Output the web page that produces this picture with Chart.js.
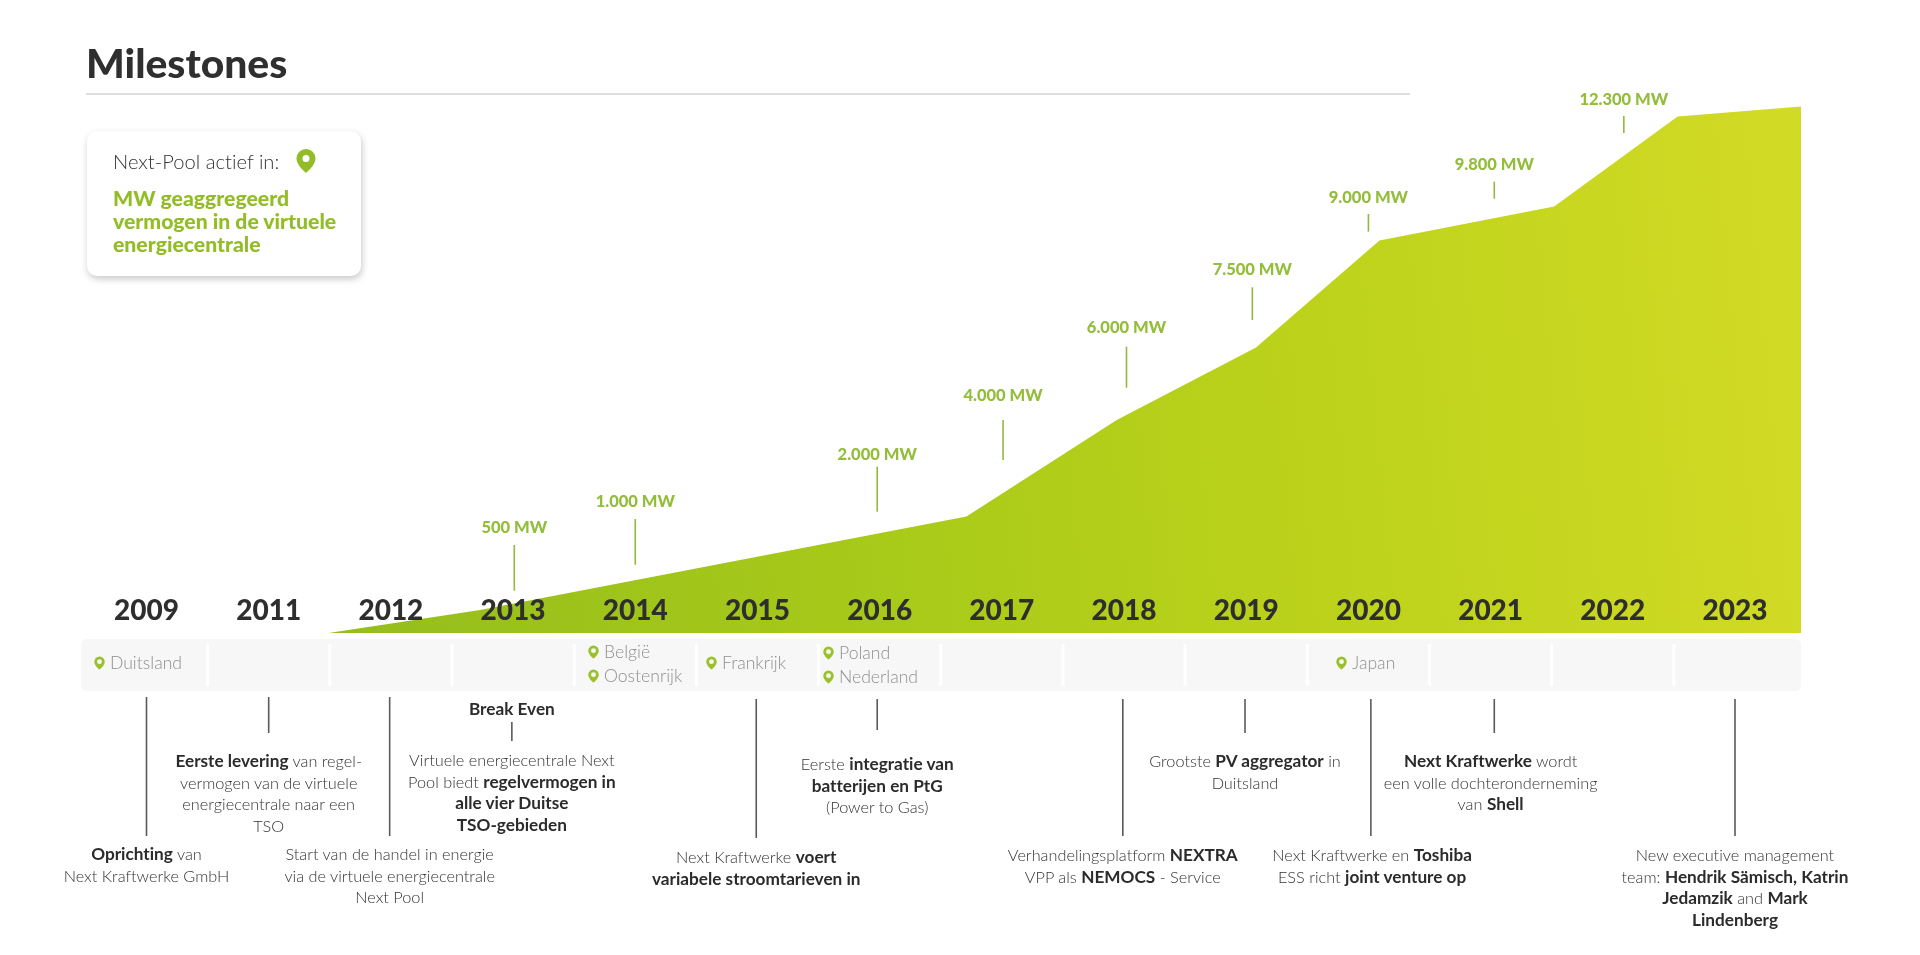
<!DOCTYPE html>
<html lang="nl">
<head>
<meta charset="utf-8">
<title>Milestones</title>
<script src="https://cdn.jsdelivr.net/npm/chart.js@4"></script>
<style>
    html, body { margin: 0; padding: 0; background: #fff; }
    body { width: 1920px; height: 955px; position: relative; overflow: hidden; font-family: Lato, sans-serif; font-variant-ligatures: none; }
    #chart { position: absolute; left: 0; top: 0; }
    #title { position: absolute; left: 86px; top: 38px; margin: 0; font-size: 40.8px; line-height: 50px; font-weight: 900; color: #2f2f2f; }
    #rule { position: absolute; left: 86px; top: 93px; width: 1324px; height: 2px; background: #dedede; }
    #card { position: absolute; left: 87px; top: 131px; width: 274px; height: 145px; border-radius: 10px; background: #fff; box-shadow: 1px 3px 7px rgba(0,0,0,.22); }
    #card .head { position: absolute; left: 26px; top: 18px; font-size: 20.2px; line-height: 24px; font-weight: 300; color: #333; white-space: nowrap; }
    #card .pin { position: absolute; left: 209px; top: 18px; width: 20px; height: 24px; }
    #card .body { position: absolute; left: 26px; top: 56px; font-size: 21.2px; line-height: 23px; font-weight: 900; color: #93bd26; white-space: nowrap; }
    .note { position: absolute; transform: translateX(-50%); text-align: center; white-space: nowrap; font-size: 16.3px; line-height: 21.6px; font-weight: 300; color: #333; }
    .note b { font-size: 17.2px; font-weight: 700; color: #2b2b2b; }
    .country { position: absolute; font-size: 17.6px; line-height: 22px; font-weight: 300; color: #8f8f8f; white-space: nowrap; }
    .country svg { position: absolute; left: -16px; top: 3px; width: 11px; height: 16px; }
</style>
</head>
<body>
<canvas id="chart" width="1920" height="955"></canvas>
<h1 id="title">Milestones</h1>
<div id="rule"></div>
<div id="card">
    <div class="head">Next-Pool actief in:</div>
    <svg class="pin" viewBox="0 0 20 24"><path fill="#93bd26" fill-rule="evenodd" d="M10 0a9.5 9.5 0 0 0-9.5 9.5C.5 15 6 20.500 10 24c4-3.500 9.500-9 9.500-14.500A9.500 9.500 0 0 0 10 0zm0 6a3.500 3.500 0 1 1 0 7 3.500 3.500 0 0 1 0-7z"/></svg>
    <div class="body">MW geaggregeerd<br>vermogen in de virtuele<br>energiecentrale</div>
</div>
<script>
// Years on the axis, one per step of the x scale
const years = ['2009', '2011', '2012', '2013', '2014', '2015', '2016', '2017', '2018', '2019', '2020', '2021', '2022', '2023'];

// Outline of the green area (x in axis steps, y in MW)
const areaX = [1.49, 2.73, 6.71, 7.94, 9.08, 10.09, 11.52, 12.53, 13.54];
const areaMw = [0, 575, 2910, 5325, 7140, 9810, 10660, 12910, 13160];

// MW callouts
const mwLabels = ['500 MW', '1.000 MW', '2.000 MW', '4.000 MW', '6.000 MW', '7.500 MW', '9.000 MW', '9.800 MW', '12.300 MW'];
const mwAt = [3.01, 4.0, 5.98, 7.01, 8.02, 9.05, 10.0, 11.03, 12.09];
const mwLabelMid = [2632, 3282, 4450, 5932, 7642, 9082, 10882, 11700, 13342];
const mwLeaderTop = [2200, 2850, 4158, 5325, 7158, 8643, 10475, 11283, 12925];
const mwLeaderBottom = [1058, 1708, 3033, 4325, 6133, 7825, 10033, 10858, 12500];

// Countries per year cell
const countryNames = ['Duitsland', 'België', 'Oostenrijk', 'Frankrijk', 'Poland', 'Nederland', 'Japan'];
const countryLeft = [110, 604, 604, 722, 839, 839, 1352];
const countryMid = [663, 652, 676, 663, 653, 677, 663];

// Milestones below the band
const noteAt = [0, 1, 1.99, 2.99, 2.99, 4.99, 5.98, 7.99, 8.99, 10.03, 11, 13];
const noteMid = [854, 761, 854, 709, 760, 857, 764, 855, 761, 855, 761, 855];
const noteTexts = [
    '<b>Oprichting</b> van<br>Next Kraftwerke GmbH',
    '<b>Eerste levering</b> van regel-<br>vermogen van de virtuele<br>energiecentrale naar een<br>TSO',
    'Start van de handel in energie<br>via de virtuele energiecentrale<br>Next Pool',
    '<b>Break Even</b>',
    'Virtuele energiecentrale Next<br>Pool biedt <b>regelvermogen in<br>alle vier Duitse<br>TSO-gebieden</b>',
    'Next Kraftwerke <b>voert<br>variabele stroomtarieven in</b>',
    'Eerste <b>integratie van<br>batterijen en PtG</b><br>(Power to Gas)',
    'Verhandelingsplatform <b>NEXTRA</b><br>VPP als <b>NEMOCS</b> - Service',
    'Grootste <b>PV aggregator</b> in<br>Duitsland',
    'Next Kraftwerke en <b>Toshiba</b><br>ESS richt <b>joint venture op</b>',
    '<b>Next Kraftwerke</b> wordt<br>een volle dochteronderneming<br>van <b>Shell</b>',
    'New executive management<br>team: <b>Hendrik Sämisch, Katrin<br>Jedamzik</b> and <b>Mark<br>Lindenberg</b>'
];

// Grey leader lines between the band and the milestones
const stemAt = [0, 1, 1.99, 2.99, 4.99, 5.98, 7.99, 8.99, 10.02, 11.03, 13];
const stemTop = [697, 697, 697, 722, 699, 699, 699, 699, 699, 699, 699];
const stemBottom = [836, 733, 836, 741, 838, 730, 836, 733, 836, 733, 836];

const pinSvg = '<svg viewBox="0 0 20 24"><path fill="#9cc02c" fill-rule="evenodd" d="M10 0a9.500 9.500 0 0 0-9.500 9.500C.5 15 6 20.500 10 24c4-3.500 9.500-9 9.500-14.500A9.500 9.500 0 0 0 10 0zm0 5a4.500 4.500 0 1 1 0 9 4.500 4.500 0 0 1 0-9z"/></svg>';

// Band, callouts and leader lines, all placed with the chart scales
const overlay = {
    id: 'overlay',
    beforeDatasetsDraw(chart) {
        const ctx = chart.ctx;
        const x = chart.scales.x;
        ctx.save();
        ctx.fillStyle = '#f7f7f7';
        ctx.beginPath();
        ctx.roundRect(81, 639, 1720, 52, 6);
        ctx.fill();
        ctx.fillStyle = '#ffffff';
        for (let i = 0; i < years.length - 1; i++) {
            ctx.fillRect(x.getPixelForValue(i + 0.5) - 1.5, 644, 3, 42);
        }
        ctx.restore();
    },
    afterDatasetsDraw(chart) {
        const ctx = chart.ctx;
        const x = chart.scales.x;
        const y = chart.scales.y;
        ctx.save();
        ctx.strokeStyle = '#93b93c';
        ctx.lineWidth = 1.6;
        ctx.fillStyle = '#93bd3a';
        ctx.font = '900 16.5px Lato';
        ctx.textAlign = 'center';
        ctx.textBaseline = 'middle';
        mwLabels.forEach(function (label, i) {
            const px = x.getPixelForValue(mwAt[i]);
            ctx.beginPath();
            ctx.moveTo(px, y.getPixelForValue(mwLeaderTop[i]));
            ctx.lineTo(px, y.getPixelForValue(mwLeaderBottom[i]));
            ctx.stroke();
            ctx.fillText(label, px, y.getPixelForValue(mwLabelMid[i]));
        });
        ctx.strokeStyle = '#5a5a5a';
        stemAt.forEach(function (at, i) {
            const px = x.getPixelForValue(at);
            ctx.beginPath();
            ctx.moveTo(px, stemTop[i]);
            ctx.lineTo(px, stemBottom[i]);
            ctx.stroke();
        });
        ctx.restore();
    }
};

const chart = new Chart(document.getElementById('chart'), {
    type: 'line',
    data: {
        datasets: [{
            data: areaX.map(function (v, i) { return { x: v, y: areaMw[i] }; }),
            fill: 'origin',
            borderWidth: 0,
            pointRadius: 0,
            tension: 0,
            backgroundColor: function (context) {
                const gradient = context.chart.ctx.createLinearGradient(329, 633, 1801, 500);
                gradient.addColorStop(0, '#95bd1d');
                gradient.addColorStop(0.35, '#a6c919');
                gradient.addColorStop(0.7, '#bed31b');
                gradient.addColorStop(1, '#d1da25');
                return gradient;
            }
        }]
    },
    options: {
        responsive: false,
        devicePixelRatio: 1,
        animation: false,
        layout: { padding: { left: 24.3, right: 62.8, top: 73, bottom: 322 } },
        plugins: { legend: { display: false }, tooltip: { enabled: false } },
        scales: {
            x: {
                type: 'linear',
                min: -1,
                max: 14,
                grid: { display: false, drawTicks: false },
                border: { display: false },
                afterFit: function (scale) { scale.height = 0; },
                ticks: {
                    // mirror keeps the labels from being clipped to the flat axis box
                    mirror: true,
                    z: 1,
                    stepSize: 1,
                    autoSkip: false,
                    maxRotation: 0,
                    padding: 5,
                    color: '#2e2e2e',
                    font: { family: 'Lato', size: 28, weight: '900' },
                    callback: function (value) { return years[value] || ''; }
                }
            },
            y: { display: false, min: 0, max: 14000 }
        }
    },
    plugins: [overlay]
});

// Text blocks below the chart, centred on the same x scale
noteTexts.forEach(function (text, i) {
    const div = document.createElement('div');
    div.className = 'note';
    div.innerHTML = text;
    div.style.left = chart.scales.x.getPixelForValue(noteAt[i]) + 'px';
    div.style.top = (noteMid[i] - 10.8) + 'px';
    document.body.appendChild(div);
});

countryNames.forEach(function (name, i) {
    const div = document.createElement('div');
    div.className = 'country';
    div.innerHTML = pinSvg + name;
    div.style.left = countryLeft[i] + 'px';
    div.style.top = (countryMid[i] - 11) + 'px';
    document.body.appendChild(div);
});
</script>
</body>
</html>
